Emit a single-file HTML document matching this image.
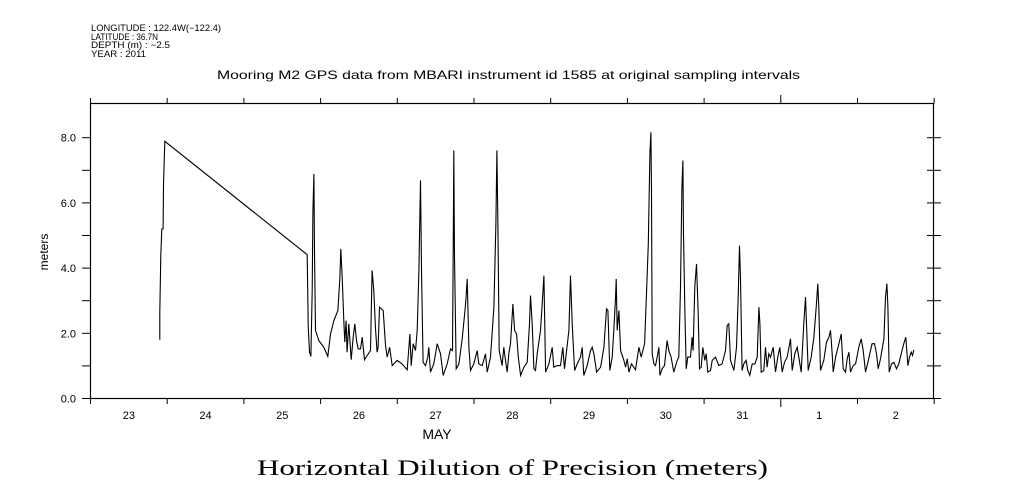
<!DOCTYPE html>
<html><head><meta charset="utf-8"><style>
html,body{margin:0;padding:0;background:#fff;}
svg{display:block;font-family:"Liberation Sans",sans-serif;}
</style></head><body>
<svg id="chart" width="1009" height="504" viewBox="0 0 1009 504">
<g font-size="9" fill="#000">
<text x="91" y="31" textLength="130" lengthAdjust="spacingAndGlyphs">LONGITUDE : 122.4W(−122.4)</text>
<text x="91" y="40" textLength="67" lengthAdjust="spacingAndGlyphs">LATITUDE : 36.7N</text>
<text x="91" y="48" textLength="79" lengthAdjust="spacingAndGlyphs">DEPTH (m) : −2.5</text>
<text x="91" y="57" textLength="55" lengthAdjust="spacingAndGlyphs">YEAR : 2011</text>
</g>
<text x="217" y="79" textLength="583" lengthAdjust="spacingAndGlyphs" font-size="12">Mooring M2 GPS data from MBARI instrument id 1585 at original sampling intervals</text>
<rect x="90.5" y="103.5" width="843" height="295" fill="none" stroke="#000" stroke-width="1.2"/>
<g id="axes"></g>
<path id="series" fill="none" stroke="#000" stroke-width="1.1"/>
<text transform="translate(48,252) rotate(-90)" text-anchor="middle" font-size="12">meters</text>
<text x="437" y="439" text-anchor="middle" font-size="14">MAY</text>
<text x="257" y="475" textLength="511" lengthAdjust="spacingAndGlyphs" font-size="22" font-family="'Liberation Serif',serif">Horizontal Dilution of Precision (meters)</text>
</svg>
<script>
const dayLabels = ["23","24","25","26","27","28","29","30","31","1","2"];
const yTicks = [0,1,2,3,4,5,6,7,8];
const yTickLabels = ["0.0","","2.0","","4.0","","6.0","","8.0"];
const times = [0.904,0.904,0.917,0.930,0.947,0.952,0.969,2.825,2.838,2.855,2.873,2.890,2.899,2.912,2.920,2.933,2.977,3.042,3.094,3.129,3.173,3.225,3.251,3.264,3.281,3.303,3.316,3.333,3.346,3.368,3.399,3.425,3.446,3.468,3.490,3.520,3.542,3.572,3.607,3.651,3.672,3.694,3.716,3.737,3.750,3.768,3.816,3.846,3.868,3.899,3.933,3.998,4.063,4.129,4.164,4.181,4.207,4.237,4.259,4.281,4.302,4.315,4.337,4.368,4.398,4.411,4.433,4.476,4.520,4.563,4.598,4.650,4.694,4.720,4.729,4.737,4.746,4.768,4.803,4.846,4.890,4.911,4.933,4.955,4.998,5.042,5.063,5.107,5.150,5.172,5.215,5.259,5.285,5.298,5.311,5.328,5.346,5.367,5.389,5.411,5.433,5.454,5.476,5.507,5.529,5.555,5.577,5.607,5.650,5.694,5.724,5.737,5.759,5.781,5.802,5.824,5.867,5.889,5.911,5.933,5.976,6.019,6.041,6.084,6.128,6.158,6.180,6.237,6.258,6.280,6.311,6.345,6.389,6.411,6.432,6.476,6.519,6.541,6.563,6.598,6.650,6.693,6.728,6.746,6.771,6.802,6.823,6.845,6.854,6.867,6.889,6.911,6.954,6.976,6.997,7.019,7.054,7.084,7.106,7.150,7.180,7.224,7.250,7.272,7.293,7.306,7.314,7.323,7.345,7.367,7.389,7.411,7.424,7.453,7.484,7.518,7.540,7.570,7.605,7.649,7.670,7.692,7.710,7.723,7.731,7.749,7.766,7.788,7.823,7.844,7.857,7.879,7.901,7.922,7.940,7.962,7.983,8.009,8.027,8.048,8.083,8.105,8.148,8.192,8.235,8.279,8.301,8.322,8.344,8.388,8.422,8.444,8.461,8.474,8.496,8.518,8.548,8.570,8.596,8.627,8.662,8.692,8.714,8.727,8.744,8.779,8.801,8.822,8.844,8.866,8.901,8.931,8.961,8.987,9.018,9.048,9.083,9.127,9.148,9.183,9.214,9.235,9.266,9.300,9.322,9.335,9.357,9.396,9.431,9.461,9.483,9.496,9.518,9.561,9.596,9.627,9.648,9.670,9.683,9.714,9.735,9.757,9.788,9.814,9.844,9.866,9.888,9.909,9.944,9.975,10.017,10.048,10.074,10.104,10.135,10.169,10.191,10.222,10.248,10.270,10.300,10.344,10.365,10.383,10.396,10.413,10.443,10.474,10.509,10.539,10.570,10.604,10.630,10.657,10.678,10.700,10.717,10.735];
const values = [1.80,2.65,4.39,5.20,5.20,6.56,7.89,4.41,2.24,1.42,1.29,3.31,5.72,6.89,4.49,2.09,1.78,1.57,1.29,1.98,2.39,2.70,3.72,4.59,3.72,2.39,1.73,2.39,1.42,2.29,1.19,1.88,2.29,1.78,1.52,1.52,1.88,1.19,1.32,1.47,3.93,3.31,2.14,1.42,1.57,2.80,2.70,1.63,1.27,1.57,1.01,1.17,1.06,0.88,1.98,1.01,1.68,1.47,2.09,3.93,6.69,3.93,1.11,1.01,1.27,1.57,0.81,1.06,1.68,1.37,0.71,1.06,1.52,1.47,4.54,7.61,4.34,0.91,1.06,1.83,2.90,3.67,1.57,0.86,1.06,1.47,1.06,1.01,1.37,0.81,1.27,2.80,5.36,7.61,5.36,1.47,1.27,1.01,1.57,1.17,0.81,1.37,1.68,2.90,2.09,1.98,1.27,0.71,0.96,1.11,2.29,3.16,2.29,0.91,0.86,1.37,2.09,2.90,3.77,0.81,1.06,1.57,0.96,1.01,1.01,1.57,0.91,2.09,3.77,2.29,0.86,1.06,1.27,1.57,0.71,1.01,1.47,1.57,1.37,0.81,0.96,1.57,2.75,2.70,0.86,1.27,2.09,3.06,3.67,2.09,2.70,1.47,1.17,0.96,1.22,0.81,1.06,0.96,0.88,1.57,1.27,1.68,3.31,4.74,7.51,8.17,6.38,1.37,1.06,1.01,1.27,1.57,0.71,0.91,1.01,1.78,1.47,1.27,0.81,1.17,1.27,3.42,6.48,7.30,5.05,2.80,0.91,1.27,1.27,1.88,1.47,3.42,4.13,2.70,0.91,0.96,1.57,1.17,1.37,0.81,0.86,1.17,1.27,1.01,1.06,1.47,2.24,2.29,1.17,0.86,1.57,3.11,4.69,3.67,0.86,1.06,1.17,0.86,0.71,1.06,1.06,1.27,2.80,2.29,0.81,0.86,1.57,0.96,1.37,1.27,1.57,0.81,1.27,1.57,0.81,1.11,1.27,1.83,0.86,1.37,1.57,1.27,0.81,2.29,3.11,2.29,0.86,1.27,1.88,2.80,3.52,2.80,0.86,1.17,1.73,1.88,2.09,1.37,0.81,1.27,1.47,1.68,1.98,0.91,0.81,1.22,1.42,0.81,1.01,1.06,1.57,1.83,1.47,0.81,1.11,1.47,1.68,1.68,1.37,0.91,1.22,1.83,3.11,3.52,2.80,0.81,1.06,1.11,0.91,1.06,1.37,1.68,1.88,1.01,1.27,1.42,1.32,1.49];

const X0 = 90.5, DAYW = 76.7, Y0 = 398.5, UNIT = 32.6;
function xScale(t){ return X0 + t*DAYW; }
function yScale(v){ return Y0 - v*UNIT; }
const NS = "http://www.w3.org/2000/svg";
const axes = document.getElementById('axes');
function mk(tag, attrs){ const e = document.createElementNS(NS, tag); for (const k in attrs) e.setAttribute(k, attrs[k]); axes.appendChild(e); return e; }

for (let i = 0; i <= dayLabels.length; i++) {
  const x = xScale(i);
  const big = (i === 9);
  const b = mk('line', {x1:x, x2:x, y1:398.5, y2:big?407:404, stroke:'#000'});
  
  
  const t = mk('line', {x1:x, x2:x, y1:103.5, y2:big?95:98, stroke:'#000'});
  
  
}
for (let i = 0; i < dayLabels.length; i++) {
  const lb = mk('text', {x:xScale(i+0.5), y:419, 'text-anchor':'middle', 'font-size':'11'});
  lb.textContent = dayLabels[i];
  
  
}
yTicks.forEach((v, i) => {
  const y = yScale(v);
  const l = mk('line', {x1:82, x2:90.5, y1:y, y2:y, stroke:'#000'});
  
  
  const r = mk('line', {x1:927, x2:941, y1:y, y2:y, stroke:'#000'});
  
  
  if (yTickLabels[i]) {
    const lb = mk('text', {x:76, y:y+4, 'text-anchor':'end', 'font-size':'11'});
    lb.textContent = yTickLabels[i];
    
    
  }
});
let d = '';
for (let i = 0; i < times.length; i++) {
  d += (i ? 'L' : 'M') + xScale(times[i]).toFixed(1) + ',' + yScale(values[i]).toFixed(1);
}
document.getElementById('series').setAttribute('d', d);
</script>
</body></html>
